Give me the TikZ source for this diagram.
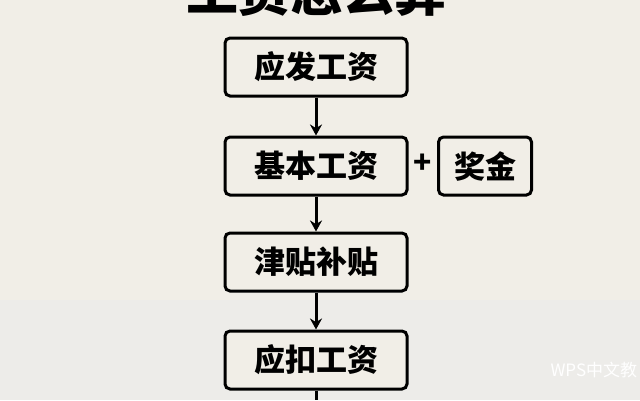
\documentclass[tikz,border=0pt]{standalone}
\usepackage{fontspec}
\newfontfamily\cjk{Noto Sans CJK SC}
\usetikzlibrary{positioning,arrows.meta}
\definecolor{paper}{HTML}{F1EEE7}
\begin{document}
\begin{tikzpicture}[x=1pt,y=-1pt,
    stepbox/.style={draw,line width=3pt,rounded corners=5pt,fill=paper,minimum height=58pt,font=\cjk\bfseries\fontsize{31}{31}\selectfont},
    flow/.style={-{Stealth[length=11pt,width=12pt]},line width=3pt}]
    \fill[paper] (0,0) rectangle (640,400);
    \fill[black!8,opacity=0.6] (0,300) rectangle (640,400);
    \useasboundingbox (0,0) rectangle (640,400);
    \node[font=\cjk\bfseries\fontsize{52}{52}\selectfont] (title) at (316,-8) {工资怎么算};
    \node[stepbox,minimum width=182pt] (gross) at (316,67) {应发工资};
    \node[stepbox,minimum width=182pt] (base) at (316,166) {基本工资};
    \node[stepbox,minimum width=93pt] (bonus) at (485,166) {奖金};
    \node[font=\cjk\bfseries\fontsize{30}{30}\selectfont] (plus) at (423,164) {+};
    \node[stepbox,minimum width=182pt] (allow) at (316,262) {津贴补贴};
    \node[stepbox,minimum width=182pt] (deduct) at (316,360) {应扣工资};
    \coordinate (down) at (316,400);
    \draw[flow] (gross) -- (base);
    \draw[flow] (base) -- (allow);
    \draw[flow] (allow) -- (deduct);
    \draw[line width=3pt] (deduct) -- (down);
    \node[white,font=\cjk\fontsize{17}{17}\selectfont,anchor=west] (mark) at (547,370) {WPS中文教};
\end{tikzpicture}
\end{document}
